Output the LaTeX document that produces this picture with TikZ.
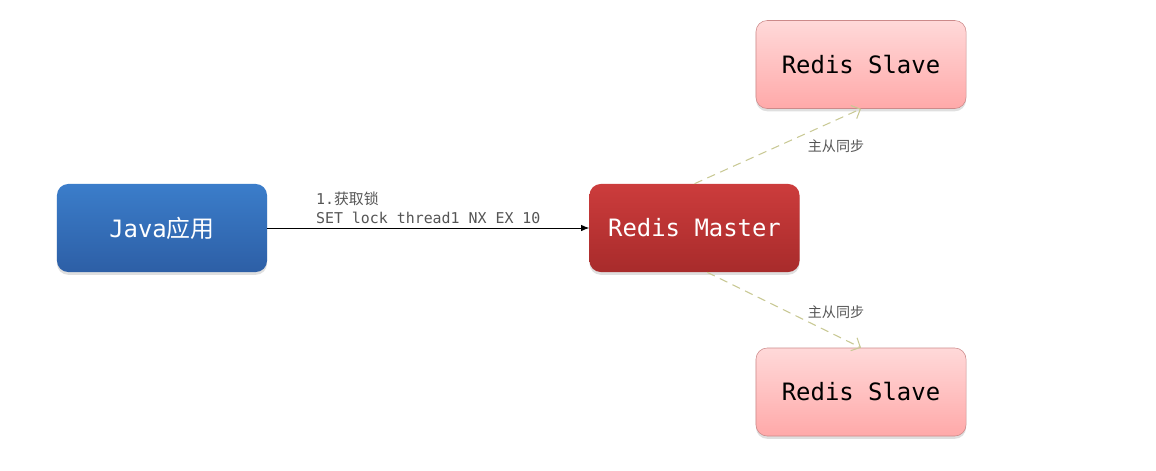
\documentclass[tikz,border=0pt]{standalone}
\usepackage{fontspec}
\setmonofont{DejaVu Sans Mono}
\newfontfamily\cjk{Noto Sans CJK SC}
\usetikzlibrary{arrows.meta,positioning,shadows}
\definecolor{javatop}{HTML}{3B7DCA}
\definecolor{javabot}{HTML}{2D5FA6}
\definecolor{mastertop}{HTML}{CC3C3C}
\definecolor{masterbot}{HTML}{A82B2B}
\definecolor{slavetop}{HTML}{FFD9D9}
\definecolor{slavebot}{HTML}{FFA9A9}
\definecolor{slaveborder}{HTML}{CC8A8A}
\definecolor{syncline}{HTML}{C9C995}
\definecolor{labelgray}{HTML}{555555}

\begin{document}
\begin{tikzpicture}[
  x=0.025cm, y=-0.025cm,
  box/.style={rounded corners=8pt, minimum width=5.25cm, minimum height=2.2cm,
              font=\fontsize{17}{20}\selectfont\ttfamily,
              drop shadow={opacity=0.25, shadow xshift=0pt, shadow yshift=-2pt}},
  javabox/.style={box, top color=javatop, bottom color=javabot, text=white},
  masterbox/.style={box, top color=mastertop, bottom color=masterbot, text=white},
  slavebox/.style={box, top color=slavetop, bottom color=slavebot,
                   draw=slaveborder, thin, text=black},
  callarrow/.style={-{Latex[length=2mm,width=1.6mm]}, black, semithick},
  syncarrow/.style={-{Straight Barb[length=1.8mm]}, syncline, line width=0.75pt,
                    dash pattern=on 6pt off 4pt},
  cmdlabel/.style={font=\fontsize{10.6}{13.5}\selectfont\ttfamily, text=labelgray,
                   align=left, inner sep=2pt},
  synclabel/.style={font=\fontsize{10}{12}\selectfont\cjk, text=labelgray},
]
\useasboundingbox (0,0) rectangle (1156,470);

% ── Nodes ───────────────────────────────────────────────────────────────
\node[javabox] (java) at (162,228) {Java{\cjk 应用}};
\node[masterbox] (master) at (694.5,228) {Redis Master};
\node[slavebox] (slave1) at (861,64.5) {Redis Slave};
\node[slavebox] (slave2) at (861,392) {Redis Slave};

% ── Lock request ────────────────────────────────────────────────────────
\draw[callarrow] (java) -- node[cmdlabel, midway, above=1pt] (cmd)
    {1.{\cjk 获取锁}\\SET lock thread1 NX EX 10} (master);

% ── Master-slave sync ───────────────────────────────────────────────────
\draw[syncarrow] (master.north) -- (slave1.south);
\draw[syncarrow] ([xshift=9]master.south) -- (slave2.north);
\node[synclabel] (sync1) at (836,146) {主从同步};
\node[synclabel] (sync2) at (836,312) {主从同步};

\end{tikzpicture}
\end{document}
